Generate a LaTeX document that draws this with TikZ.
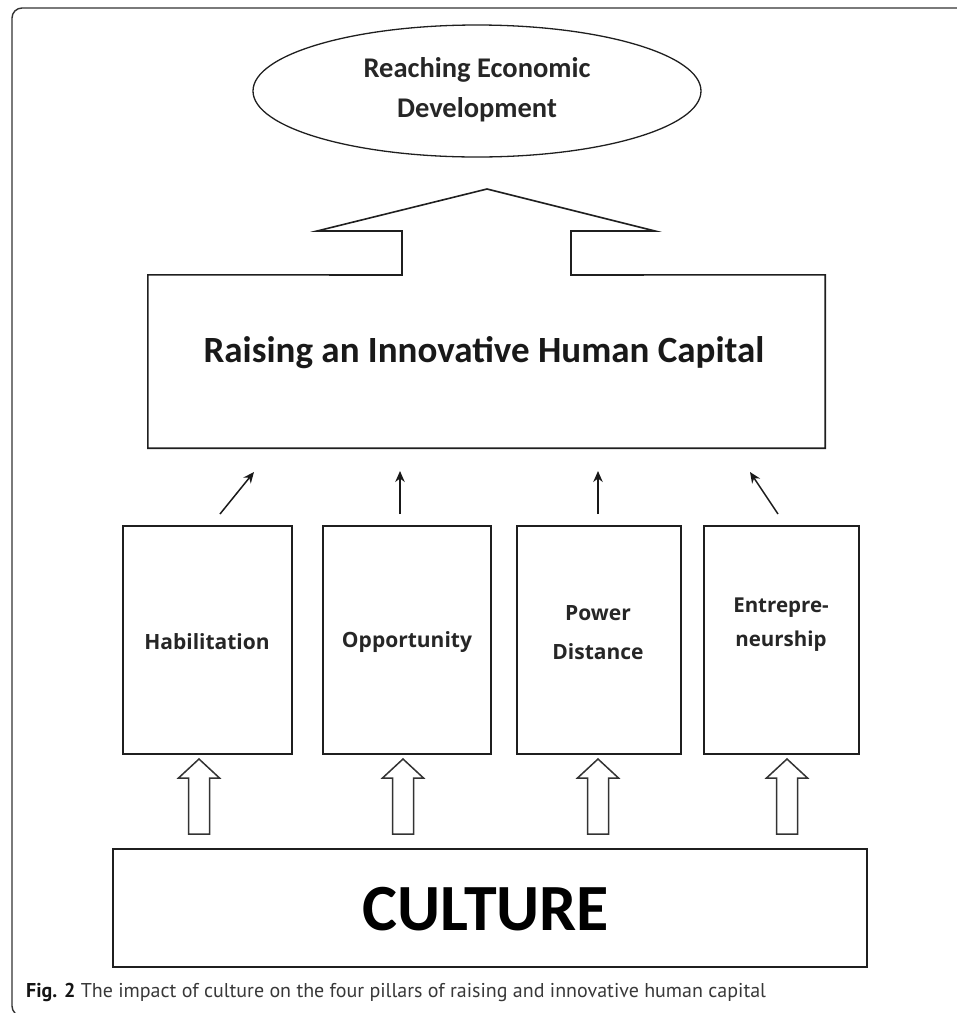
\documentclass[tikz,border=0pt]{standalone}
\usepackage{fontspec}
\usetikzlibrary{shapes.geometric,arrows.meta}
\newfontfamily\calb{Carlito}
\newfontfamily\osans{Open Sans}
\newfontfamily\ptsans{PT Sans}
\tikzset{
  line/.style={draw=black!88, line width=1.6pt},
  pillar/.style={line, minimum width=#1, minimum height=228pt, inner sep=0pt},
  pillartext/.style={font=\osans\bfseries\fontsize{21}{39}\selectfont, align=center, text=black!85, inner sep=0pt},
  thinarrow/.style={draw=black!90, line width=1.5pt, -{Stealth[length=11pt,width=9.5pt]}},
  pics/blockup/.style={code={
    \draw[line, draw=black!80, line width=1.5pt, fill=white, line join=miter]
      (-10.5,0) -- (-10.5,-56) -- (-20.5,-56) -- (0,-75) -- (20.5,-56) -- (10.5,-56) -- (10.5,0) -- cycle;}}
}
\begin{document}
\begin{tikzpicture}[x=1pt,y=-1pt]
\useasboundingbox (0,0) rectangle (957,1013);
% frame
\draw[draw=black!80, line width=1.4pt, rounded corners=10pt] (965,8) -- (12,8) -- (12,1016) -- (965,1016);
% goal ellipse
\node[ellipse, line, line width=1.3pt, minimum width=448pt, minimum height=132pt, inner sep=0pt] (goal) at (477,91) {};
\node[font=\calb\bfseries\fontsize{28.5}{40}\selectfont, align=center, text=black!85, inner sep=0pt] (goaltext) at (477,90) {Reaching Economic\\Development};
% human capital box with arrow on top
\node[minimum width=677pt, minimum height=173pt, inner sep=0pt] (cap) at (486.5,361.5) {};
\draw[line, line join=miter] (402,275) -- (402,231) -- (317,231) -- (487,189) -- (655,231) -- (571,231) -- (571,275)
  -- (cap.north east) -- (cap.south east) -- (cap.south west) -- (cap.north west) -- cycle;
\node[font=\calb\bfseries\fontsize{37}{40}\selectfont, text=black!90, inner sep=0pt] (captext) at (484,353) {Raising an Innovative Human Capital};
% pillars
\node[pillar=169pt] (b1) at (207.5,640) {};
\node[pillar=168pt] (b2) at (407,640) {};
\node[pillar=164pt] (b3) at (599,640) {};
\node[pillar=155pt] (b4) at (781.5,640) {};
\node[pillartext] (t1) at (207,642) {Habilitation};
\node[pillartext] (t2) at (407,642) {Opportunity};
\node[pillartext] (t3) at (598,633) {Power\\Distance};
\node[pillartext, font=\osans\bfseries\fontsize{20.5}{34}\selectfont] (t4) at (781,625) {Entrepre-\\neurship};
% small arrows
\coordinate (a1s) at (220,514); \coordinate (a1e) at (254,472);
\coordinate (a2s) at (400,514); \coordinate (a2e) at (400,471);
\coordinate (a3s) at (598,514); \coordinate (a3e) at (598,471);
\coordinate (a4s) at (778,514); \coordinate (a4e) at (750,472);
\draw[thinarrow] (a1s) -- (a1e);
\draw[thinarrow] (a2s) -- (a2e);
\draw[thinarrow] (a3s) -- (a3e);
\draw[thinarrow] (a4s) -- (a4e);
% culture box
\node[line, minimum width=754pt, minimum height=118pt, inner sep=0pt] (culture) at (490,908) {};
\node[font=\calb\bfseries\fontsize{66}{66}\selectfont, text=black, inner sep=0pt] (culturetext) at (486,909) {CULTURE};
% hollow block arrows
\pic at (199,834) {blockup};
\pic at (403,834) {blockup};
\pic at (598,834) {blockup};
\pic at (787,834) {blockup};
% caption
\node[anchor=base west, font=\ptsans\fontsize{20}{22}\selectfont, text=black!78, inner sep=0pt] (caption) at (26,997)
  {{\bfseries\color{black!92}Fig. 2} The impact of culture on the four pillars of raising and innovative human capital};
\end{tikzpicture}
\end{document}
